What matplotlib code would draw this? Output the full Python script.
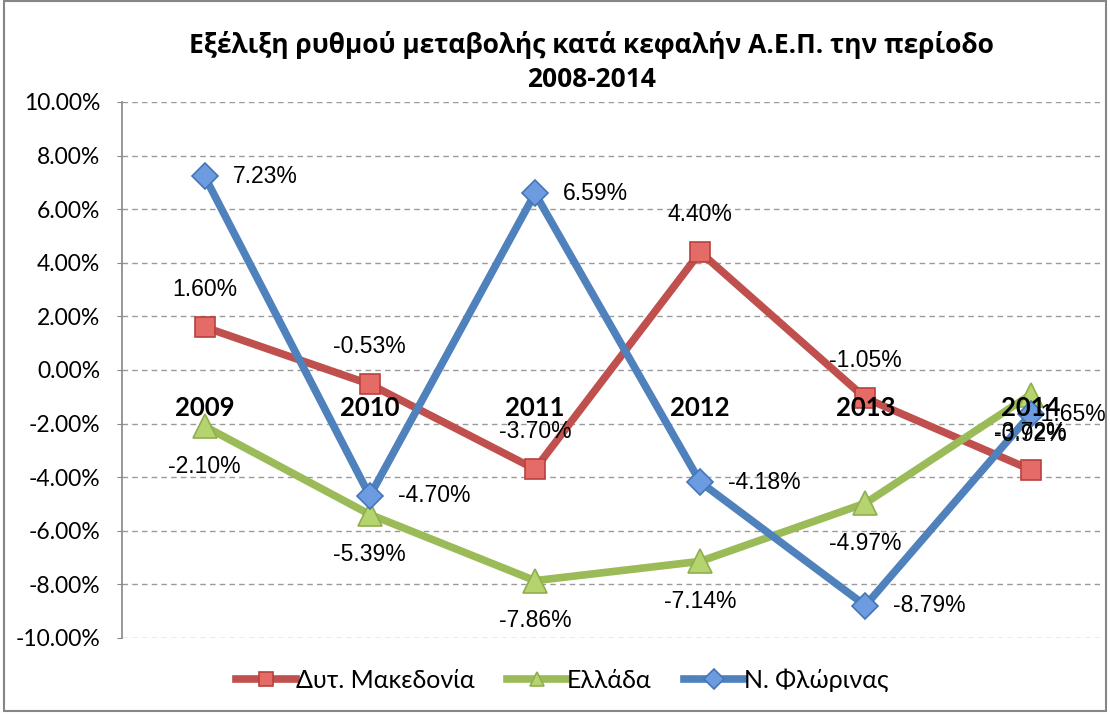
import numpy as np
import matplotlib.pyplot as plt
import matplotlib.patches as mpatches

# data
years = ['2009', '2010', '2011', '2012', '2013', '2014']
dyt_makedonia = [1.60, -0.53, -3.70, 4.40, -1.05, -3.72]
ellada = [-2.10, -5.39, -7.86, -7.14, -4.97, -0.92]
florina = [7.23, -4.70, 6.59, -4.18, -8.79, -1.65]

red = '#C0504D'
green = '#9BBB59'
blue = '#4F81BD'

fig = plt.figure(figsize=(11.1, 7.14), dpi=100)
ax = fig.add_axes([122 / 1110, 1 - 638 / 714, (1100 - 122) / 1110, (638 - 102) / 714])

x = np.arange(len(years))
ax.plot(x, dyt_makedonia, color=red, lw=5.5, marker='s', ms=15,
        mfc='#E46B66', mec='#B8423F', mew=1.2, label='Δυτ. Μακεδονία', zorder=3)
ax.plot(x, ellada, color=green, lw=5.5, marker='^', ms=17,
        mfc='#B5D46E', mec='#8FAE50', mew=1.2, label='Ελλάδα', zorder=3)
ax.plot(x, florina, color=blue, lw=5.5, marker='D', ms=13,
        mfc='#6C9BE0', mec='#4676B8', mew=1.2, label='Ν. Φλώρινας', zorder=4)

lab_font = dict(family='Liberation Sans', fontsize=16.5, color='black', zorder=6)
for i, v in enumerate(dyt_makedonia):
    ax.annotate(f'{v:.2f}%', (i, v), xytext=(0, 27), textcoords='offset points',
                ha='center', va='center', **lab_font)
for i, v in enumerate(ellada):
    ax.annotate(f'{v:.2f}%', (i, v), xytext=(0, -29), textcoords='offset points',
                ha='center', va='center', **lab_font)
for i, v in enumerate(florina):
    # last label is pushed in so it stays inside the chart
    dx = 20 if i < len(florina) - 1 else 2
    ax.annotate(f'{v:.2f}%', (i, v), xytext=(dx, 0), textcoords='offset points',
                ha='left', va='center', **lab_font)

ax.set_xlim(-0.5, 5.42)
ax.set_ylim(-10, 10)
ax.set_yticks(np.arange(-10, 10.1, 2))
ax.set_yticklabels([f'{t:.2f}%' for t in np.arange(-10, 10.1, 2)],
                   family='Lato', fontsize=16.5)
ax.tick_params(axis='y', length=3.6, color='#868686', pad=12)
ax.set_xticks([])
for i, yr in enumerate(years):
    ax.text(i, -1.4, yr, ha='center', va='center', family='Lato',
            fontweight='bold', fontsize=18.5, zorder=5)

ax.grid(axis='y', ls=(0, (4, 3)), color='#9a9a9a', lw=1)
ax.set_axisbelow(True)
for s in ['top', 'right', 'bottom']:
    ax.spines[s].set_visible(False)
ax.spines['left'].set_color('#868686')
ax.spines['left'].set_linewidth(1.2)

fig.text(591 / 1110, 1 - 62 / 714,
         'Εξέλιξη ρυθμού μεταβολής κατά κεφαλήν Α.Ε.Π. την περίοδο\n2008-2014',
         ha='center', va='center', family='Open Sans', fontweight='bold',
         fontsize=19, linespacing=1.3)

leg = fig.legend(loc='center', bbox_to_anchor=(562 / 1110, 1 - 680 / 714), ncol=3,
                 frameon=False, prop={'family': 'Lato', 'size': 18},
                 handlelength=2.4, columnspacing=1.3, handletextpad=0.0)
for h in leg.legend_handles:
    h.set_markersize(10)

fig.patches.append(mpatches.Rectangle((0.004, 0.004), 0.992, 0.994, transform=fig.transFigure,
                                      fill=False, edgecolor='#868686', lw=1.5))

fig.savefig('out.png', dpi=100)
